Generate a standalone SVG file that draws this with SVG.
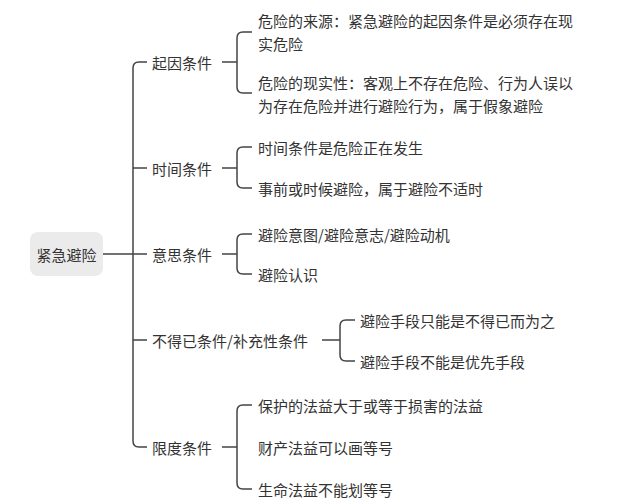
<svg xmlns="http://www.w3.org/2000/svg" width="630" height="500" viewBox="0 0 630 500">
<style>
text{font-family:"Noto Sans CJK SC","Noto Sans",sans-serif;font-size:15px;fill:#333;dominant-baseline:central}
.l{fill:none;stroke:#444;stroke-width:1.5}
</style>
<rect width="630" height="500" fill="#fff"/>
<g id="connectors">
<path class="l" d="M103 254H133M147 62H139Q133 62 133 68V441Q133 447 139 447H147M133 168H147M133 254H147M133 340H147"/>
<path class="l" d="M222 62H237M252 32H243Q237 32 237 38V87Q237 93 243 93H252"/>
<path class="l" d="M222 168H237M252 147H243Q237 147 237 153V182Q237 188 243 188H252"/>
<path class="l" d="M222 254H237M252 234H243Q237 234 237 240V268Q237 274 243 274H252"/>
<path class="l" d="M322 340H340M355 320H346Q340 320 340 326V355Q340 361 346 361H355"/>
<path class="l" d="M222 447H237M252 405H243Q237 405 237 411V483Q237 489 243 489H252"/>
</g>
<g id="root"><rect x="30" y="232" width="73" height="44" rx="8" fill="#ebebeb"/><text x="66.5" y="254" text-anchor="middle">紧急避险</text></g>
<g id="n1"><text x="152" y="62">起因条件</text></g>
<g id="n2"><text x="152" y="168">时间条件</text></g>
<g id="n3"><text x="152" y="254">意思条件</text></g>
<g id="n4"><text x="152" y="340">不得已条件/补充性条件</text></g>
<g id="n5"><text x="152" y="447">限度条件</text></g>
<g id="l1"><text x="258" y="20">危险的来源：紧急避险的起因条件是必须存在现</text><text x="258" y="43">实危险</text></g>
<g id="l2"><text x="258" y="82">危险的现实性：客观上不存在危险、行为人误以</text><text x="258" y="105">为存在危险并进行避险行为，属于假象避险</text></g>
<g id="l3"><text x="258" y="147">时间条件是危险正在发生</text></g>
<g id="l4"><text x="258" y="188">事前或时候避险，属于避险不适时</text></g>
<g id="l5"><text x="258" y="234">避险意图/避险意志/避险动机</text></g>
<g id="l6"><text x="258" y="274">避险认识</text></g>
<g id="l7"><text x="360" y="320">避险手段只能是不得已而为之</text></g>
<g id="l8"><text x="360" y="361">避险手段不能是优先手段</text></g>
<g id="l9"><text x="258" y="405">保护的法益大于或等于损害的法益</text></g>
<g id="l10"><text x="258" y="447">财产法益可以画等号</text></g>
<g id="l11"><text x="258" y="489">生命法益不能划等号</text></g>
</svg>
